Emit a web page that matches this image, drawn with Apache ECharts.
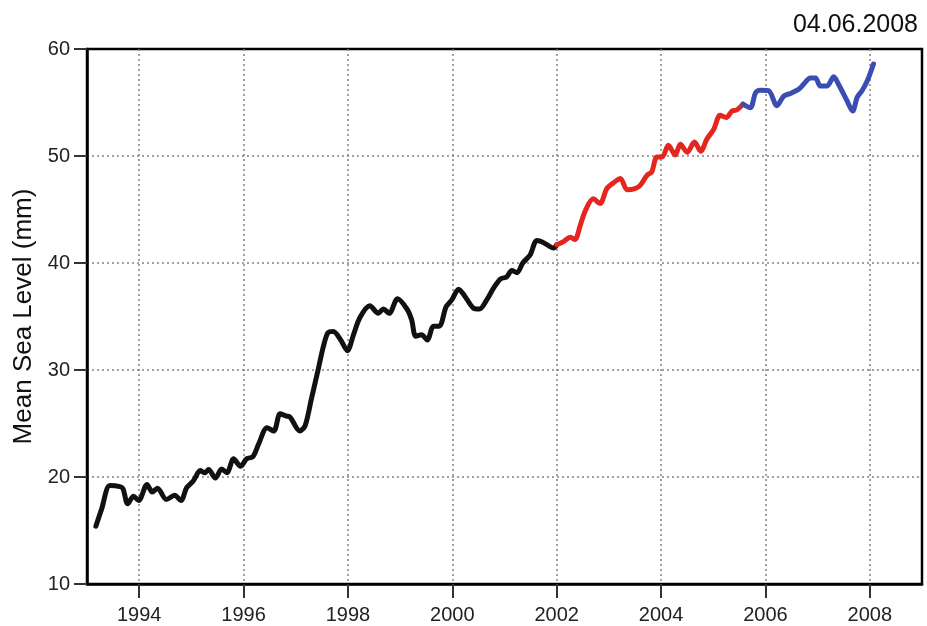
<!DOCTYPE html>
<html>
<head>
<meta charset="utf-8">
<script src="https://cdn.jsdelivr.net/npm/echarts@6/dist/echarts.min.js"></script>
<style>
  html, body { margin: 0; padding: 0; background: #fff; }
  #main { width: 927px; height: 626px; }
</style>
</head>
<body>
<div id="main"></div>
<script>
// years / mean sea level (mm)
var blackYears = [1993.17, 1993.28, 1993.44, 1993.63, 1993.69, 1993.78, 1993.89, 1993.99, 1994.15, 1994.25,
	1994.35, 1994.52, 1994.68, 1994.80, 1994.91, 1995.04, 1995.17, 1995.26, 1995.33, 1995.46,
	1995.58, 1995.68, 1995.81, 1995.94, 1996.06, 1996.18, 1996.29, 1996.45, 1996.58, 1996.70,
	1996.82, 1996.89, 1997.08, 1997.18, 1997.30, 1997.43, 1997.53, 1997.62, 1997.72, 1997.85,
	1997.99, 1998.10, 1998.23, 1998.42, 1998.58, 1998.68, 1998.79, 1998.95, 1999.13, 1999.22,
	1999.30, 1999.41, 1999.52, 1999.64, 1999.75, 1999.88, 1999.99, 2000.12, 2000.24, 2000.40,
	2000.52, 2000.66, 2000.79, 2000.92, 2001.04, 2001.14, 2001.24, 2001.35, 2001.49, 2001.62,
	2001.75, 2001.94, 2002.00];
var blackLevels = [15.4, 17.0, 19.2, 19.1, 18.9, 17.5, 18.2, 17.8, 19.3, 18.6,
	18.95, 17.9, 18.3, 17.8, 19.0, 19.65, 20.6, 20.4, 20.7, 19.9,
	20.75, 20.4, 21.7, 21.0, 21.7, 21.9, 23.1, 24.6, 24.3, 25.9,
	25.7, 25.6, 24.3, 24.8, 27.3, 30.05, 32.2, 33.5, 33.6, 32.9,
	31.8, 33.2, 34.9, 36.0, 35.3, 35.7, 35.3, 36.65, 35.7, 34.7,
	33.15, 33.3, 32.8, 34.1, 34.1, 35.9, 36.55, 37.55, 36.9, 35.8,
	35.7, 36.55, 37.65, 38.5, 38.7, 39.3, 39.1, 40.0, 40.75, 42.1,
	41.9, 41.4, 41.7];

var redYears = [2002.00, 2002.13, 2002.26, 2002.35, 2002.45, 2002.55, 2002.70, 2002.83, 2002.96, 2003.09,
	2003.22, 2003.35, 2003.50, 2003.60, 2003.73, 2003.82, 2003.92, 2004.02, 2004.14, 2004.27,
	2004.37, 2004.50, 2004.64, 2004.76, 2004.88, 2005.01, 2005.13, 2005.25, 2005.36, 2005.45,
	2005.57];
var redLevels = [41.7, 42.0, 42.4, 42.2, 43.5, 44.9, 46.0, 45.55, 46.95, 47.5,
	47.9, 46.85, 46.95, 47.25, 48.2, 48.5, 49.9, 49.9, 51.0, 50.1,
	51.1, 50.35, 51.3, 50.45, 51.6, 52.5, 53.8, 53.6, 54.2, 54.3,
	54.85];

var blueYears = [2005.57, 2005.71, 2005.81, 2005.90, 2006.06, 2006.22, 2006.35, 2006.48, 2006.64, 2006.73,
	2006.86, 2006.96, 2007.05, 2007.18, 2007.31, 2007.40, 2007.56, 2007.67, 2007.76, 2007.85,
	2007.95, 2008.07];
var blueLevels = [54.85, 54.5, 55.9, 56.15, 56.1, 54.7, 55.6, 55.85, 56.25, 56.7,
	57.3, 57.3, 56.55, 56.55, 57.4, 56.7, 55.2, 54.2, 55.5, 56.1,
	57.0, 58.6];

var yearTicks = [1994, 1996, 1998, 2000, 2002, 2004, 2006, 2008];
var dateStamp = '04.06.2008';

function pairs(xs, ys) {
	return xs.map(function(x, i) { return [x, ys[i]]; });
}

var dotted = { color: '#8d7f78', type: [2, 3], width: 1.5 };
var font = 'Liberation Sans, Arial, Helvetica, sans-serif';

function lineSeries(name, data, color) {
	return {
		name: name,
		type: 'line',
		data: data,
		showSymbol: false,
		smooth: 0.3,
		lineStyle: { color: color, width: 5, cap: 'round', join: 'round' },
		z: 3
	};
}

var option = {
	backgroundColor: '#fff',
	animation: false,
	title: {
		text: dateStamp,
		right: 4,
		top: 8,
		textStyle: { fontFamily: font, fontSize: 25, fontWeight: 'normal', color: '#111' }
	},
	grid: {
		left: 87,
		right: 5,
		top: 49,
		bottom: 42,
		show: true,
		borderColor: '#000',
		borderWidth: 2.5,
		backgroundColor: 'transparent'
	},
	xAxis: {
		type: 'value',
		min: 1993,
		max: 2009,
		interval: 1,
		axisLine: { show: true, onZero: false, lineStyle: { color: '#000', width: 2.5 } },
		axisTick: { show: true, length: 14, customValues: yearTicks, lineStyle: { color: '#333', width: 2 } },
		axisLabel: {
			customValues: yearTicks,
			margin: 21,
			fontFamily: font,
			fontSize: 20,
			color: '#222',
			formatter: function(v) { return String(v); }
		},
		splitLine: { show: true, lineStyle: dotted }
	},
	yAxis: {
		type: 'value',
		min: 10,
		max: 60,
		interval: 10,
		name: 'Mean Sea Level (mm)',
		nameLocation: 'middle',
		nameGap: 50,
		nameTextStyle: { fontFamily: font, fontSize: 26, color: '#111' },
		axisLine: { show: true, lineStyle: { color: '#000', width: 2.5 } },
		axisTick: { show: true, length: 13, lineStyle: { color: '#333', width: 2 } },
		axisLabel: { margin: 17, fontFamily: font, fontSize: 20, color: '#222' },
		splitLine: { show: true, showMinLine: false, showMaxLine: false, lineStyle: dotted }
	},
	series: [
		lineSeries('1993-2002', pairs(blackYears, blackLevels), '#111111'),
		lineSeries('2002-2005', pairs(redYears, redLevels), '#e5261f'),
		lineSeries('2005-2008', pairs(blueYears, blueLevels), '#3a4db3')
	]
};

var chart = echarts.init(document.getElementById('main'), null, { renderer: 'canvas' });
chart.setOption(option);
</script>
</body>
</html>
